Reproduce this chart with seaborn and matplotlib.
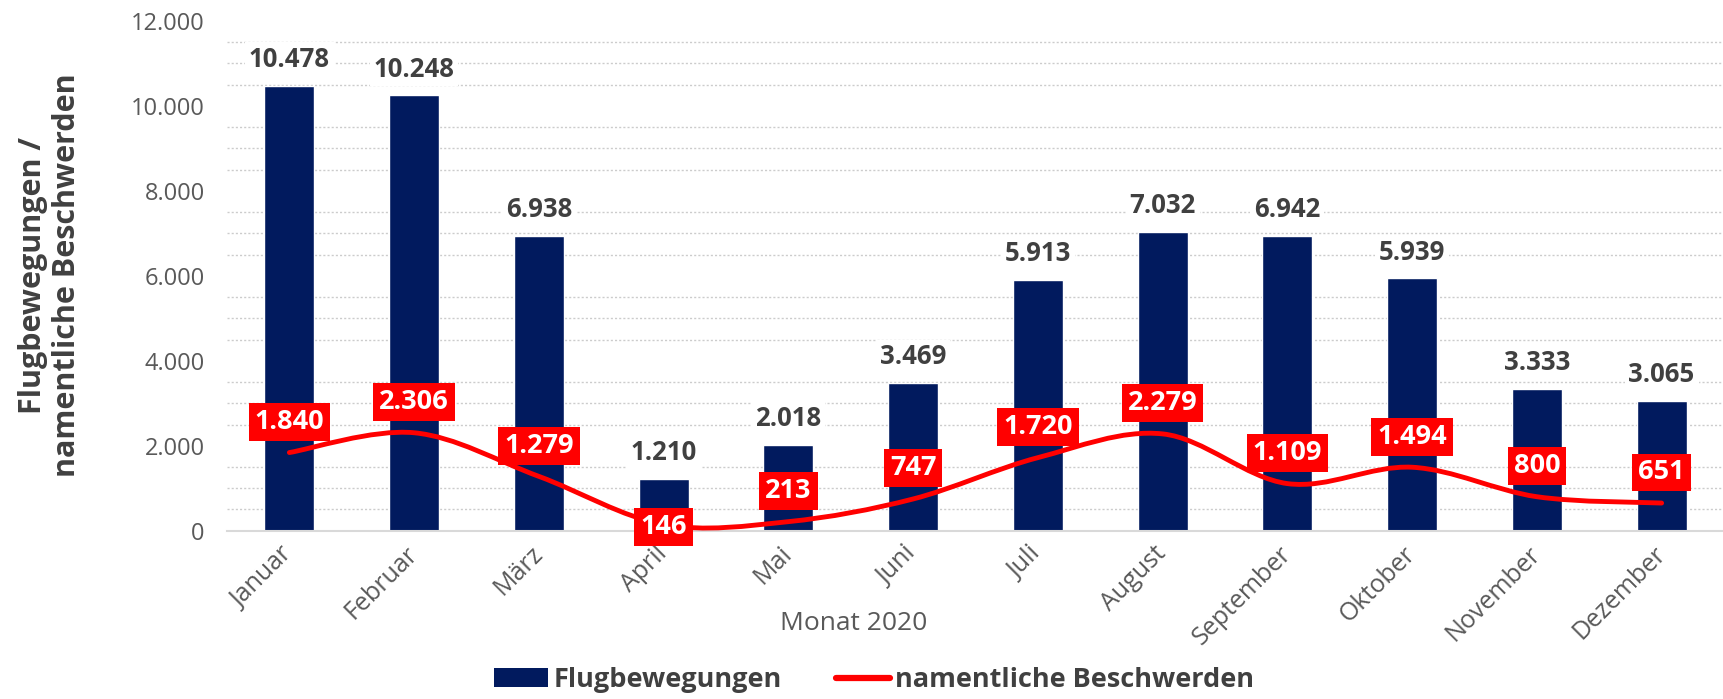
import numpy as np
import matplotlib
matplotlib.use('Agg')
import matplotlib.pyplot as plt
from matplotlib.path import Path
from matplotlib.patches import PathPatch, Patch
from matplotlib.lines import Line2D
from matplotlib.ticker import FixedLocator
import seaborn as sns

months = ['Januar', 'Februar', 'März', 'April', 'Mai', 'Juni', 'Juli',
          'August', 'September', 'Oktober', 'November', 'Dezember']
flugbewegungen = [10478, 10248, 6938, 1210, 2018, 3469, 5913, 7032, 6942, 5939, 3333, 3065]
beschwerden = [1840, 2306, 1279, 146, 213, 747, 1720, 2279, 1109, 1494, 800, 651]
y_ticks = [0, 2000, 4000, 6000, 8000, 10000, 12000]

navy = '#011a5e'
red = '#ff0000'
dark = '#404040'
grey = '#595959'


def de(v):
    return f'{v:,}'.replace(',', '.')


sns.set_theme(style='white')
plt.rcParams['font.family'] = ['Open Sans', 'DejaVu Sans']

fig = plt.figure(figsize=(17.24, 6.99), dpi=100)
ax = fig.add_axes([227 / 1724, 1 - 530.7 / 699, 1 - 227 / 1724, (530.7 - 21) / 699])

sns.barplot(x=months, y=flugbewegungen, color=navy, saturation=1, width=0.4, ax=ax, zorder=2)

ax.set_xlim(-0.5, 11.5)
ax.set_ylim(0, 12000)
ax.set_yticks(y_ticks)
ax.set_yticklabels([de(t) for t in y_ticks])
ax.yaxis.set_minor_locator(FixedLocator(np.arange(500, 12000, 500)))
ax.xaxis.set_minor_locator(FixedLocator(np.arange(-0.5, 12, 1)))
ax.grid(False)
ax.grid(which='minor', axis='y', color='#cccccc', linestyle=(0, (1.5, 1.5)), linewidth=1, zorder=0)
ax.set_axisbelow(True)

for s in ['top', 'right', 'left']:
    ax.spines[s].set_visible(False)
ax.spines['bottom'].set_color('#d9d9d9')
ax.spines['bottom'].set_linewidth(1.5)

ax.tick_params(axis='y', which='both', length=0, pad=16, labelsize=17, labelcolor=grey)
ax.tick_params(axis='x', which='major', length=0, pad=14, labelsize=18, labelcolor=grey)
ax.tick_params(axis='x', which='minor', length=6, width=1.5, color='#d9d9d9', direction='out')
ax.set_xticks(range(len(months)))
ax.set_xticklabels(months, rotation=45, ha='right', va='center', rotation_mode='anchor')
ax.set_xlabel('')
ax.set_ylabel('')

# smoothed line (Catmull-Rom as Bezier, like the spreadsheet smoothing)
pts = np.column_stack([np.arange(len(beschwerden)), beschwerden]).astype(float)
n = len(pts)
verts = [pts[0]]
codes = [Path.MOVETO]
for i in range(n - 1):
    p0 = pts[max(i - 1, 0)]
    p1 = pts[i]
    p2 = pts[i + 1]
    p3 = pts[min(i + 2, n - 1)]
    verts += [p1 + (p2 - p0) / 6, p2 - (p3 - p1) / 6, p2]
    codes += [Path.CURVE4] * 3
ax.add_patch(PathPatch(Path(verts, codes), fill=False, edgecolor=red, lw=3.5,
                       capstyle='round', zorder=3))

for i, v in enumerate(flugbewegungen):
    ax.annotate(de(v), (i, v), xytext=(0, 19), textcoords='offset points',
                ha='center', va='center', fontsize=18.5, fontweight='bold', color=dark,
                bbox=dict(boxstyle='square,pad=0.15', fc='white', ec='none'), zorder=4)

for i, v in enumerate(beschwerden):
    off = -2 if months[i] == 'April' else 22
    ax.annotate(de(v), (i, v), xytext=(0, off), textcoords='offset points',
                ha='center', va='center', fontsize=19.5, fontweight='bold', color='white',
                bbox=dict(boxstyle='square,pad=0.22', fc=red, ec='none'), zorder=5)

fig.text(50 / 1724, 1 - 275 / 699, 'Flugbewegungen /\nnamentliche Beschwerden',
         rotation=90, ha='center', va='center', multialignment='center',
         fontsize=22, fontweight='bold', color=dark, linespacing=1.2)
fig.text(854 / 1724, 1 - 623 / 699, 'Monat 2020', ha='center', va='center',
         fontsize=19, color=grey)

handles = [Patch(facecolor=navy, edgecolor='none'),
           Line2D([], [], color=red, lw=4.5, solid_capstyle='round')]
fig.legend(handles, ['Flugbewegungen', 'namentliche Beschwerden'], loc='center',
           bbox_to_anchor=(874 / 1724, 1 - 680 / 699), ncol=2, frameon=False,
           prop={'size': 19.5, 'weight': 'bold'}, labelcolor=dark,
           handlelength=2.0, handleheight=0.7, handletextpad=0.2, columnspacing=2.0)

fig.savefig('out.png', dpi=100)
